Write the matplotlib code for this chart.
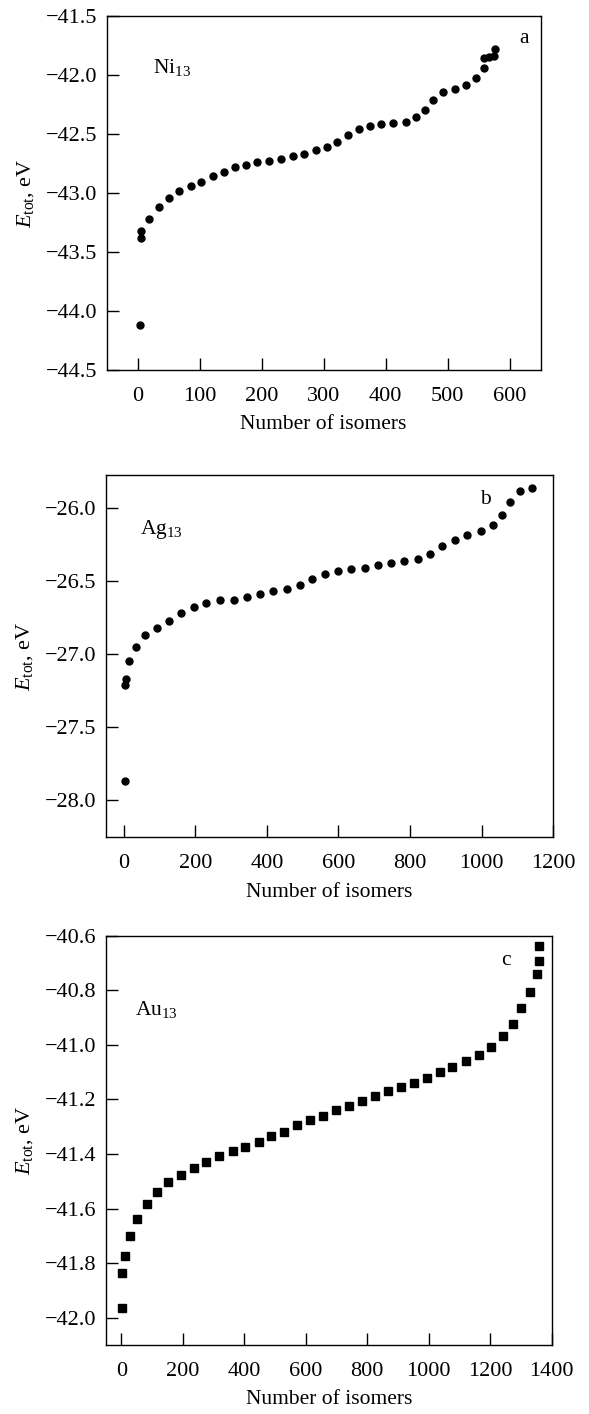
import numpy as np
import matplotlib
matplotlib.use("Agg")
import matplotlib.pyplot as plt
from matplotlib.ticker import MultipleLocator

plt.rcParams['font.family'] = ['Liberation Serif', 'DejaVu Serif']
plt.rcParams['mathtext.fontset'] = 'custom'
plt.rcParams['mathtext.rm'] = 'Liberation Serif'
plt.rcParams['mathtext.it'] = 'Liberation Serif:italic'

# Ni13 isomers (panel a)
ni_x = [4, 5, 6, 19, 34, 50, 67, 86, 103, 121, 139, 157, 175, 193, 212, 231, 250, 268,
        287, 305, 322, 339, 357, 375, 393, 412, 432, 449, 464, 477, 493, 511, 530, 546,
        559, 558, 566, 574, 577]
ni_e = [-44.12, -43.38, -43.32, -43.22, -43.12, -43.04, -42.98, -42.94, -42.91, -42.86,
        -42.82, -42.785, -42.76, -42.74, -42.73, -42.71, -42.69, -42.67, -42.64, -42.61,
        -42.57, -42.51, -42.46, -42.43, -42.42, -42.41, -42.40, -42.36, -42.30, -42.21,
        -42.15, -42.12, -42.09, -42.03, -41.94, -41.86, -41.85, -41.84, -41.78]

# Ag13 isomers (panel b)
ag_x = [3, 5, 7, 15, 34, 59, 93, 127, 161, 196, 231, 270, 307, 344, 382, 417, 455, 492,
        527, 562, 599, 636, 673, 710, 746, 784, 821, 855, 889, 924, 958, 999, 1032, 1057,
        1078, 1107, 1141]
ag_e = [-27.87, -27.21, -27.17, -27.05, -26.95, -26.87, -26.82, -26.775, -26.72, -26.68,
        -26.65, -26.634, -26.63, -26.61, -26.59, -26.57, -26.556, -26.527, -26.49, -26.456,
        -26.433, -26.42, -26.41, -26.39, -26.376, -26.365, -26.347, -26.315, -26.26, -26.217,
        -26.185, -26.16, -26.116, -26.05, -25.957, -25.886, -25.863]

# Au13 isomers (panel c)
au_x = [1, 3, 12, 27, 50, 82, 115, 152, 194, 235, 276, 319, 362, 402, 447, 486, 530, 572,
        612, 657, 698, 741, 783, 824, 866, 910, 952, 995, 1036, 1077, 1121, 1162, 1203,
        1241, 1273, 1301, 1330, 1351, 1358, 1359]
au_e = [-41.966, -41.835, -41.774, -41.70, -41.637, -41.583, -41.54, -41.502, -41.476,
        -41.452, -41.43, -41.408, -41.39, -41.373, -41.356, -41.336, -41.32, -41.293,
        -41.275, -41.26, -41.24, -41.224, -41.207, -41.188, -41.17, -41.153, -41.14,
        -41.12, -41.10, -41.082, -41.061, -41.037, -41.007, -40.967, -40.922, -40.864,
        -40.807, -40.74, -40.694, -40.638]

fig = plt.figure(figsize=(5.89, 14.14), dpi=100)

panels = [
    # rect, x, y, marker, xlim, ylim, xstep, ystep, name, name pos, letter pos
    ([0.181, 0.7383, 0.737, 0.2506], ni_x, ni_e, 'o', (-50, 650), (-44.5, -41.5), 100, 0.5,
     r'Ni$_{13}$', (25, -41.94), 'a', (616, -41.69)),
    ([0.1795, 0.4078, 0.760, 0.2563], ag_x, ag_e, 'o', (-50, 1200), (-28.255, -25.775), 200, 0.5,
     r'Ag$_{13}$', (45, -26.15), 'b', (995, -25.94)),
    ([0.180, 0.0488, 0.7567, 0.2895], au_x, au_e, 's', (-50, 1400), (-42.1, -40.6), 200, 0.2,
     r'Au$_{13}$', (45, -40.87), 'c', (1235, -40.69)),
]

for rect, xs, ys, mk, xl, yl, xst, yst, name, npos, let, lpos in panels:
    ax = fig.add_axes(rect)
    ms = 5 if mk == 'o' else 5.5
    ax.plot(xs, ys, ls='none', marker=mk, ms=ms, color='black', mec='black')
    ax.set_xlim(*xl)
    ax.set_ylim(*yl)
    ax.xaxis.set_major_locator(MultipleLocator(xst))
    ax.yaxis.set_major_locator(MultipleLocator(yst))
    ax.tick_params(direction='in', length=8.5, width=1, labelsize=16, top=False, right=False)
    ax.tick_params(axis='x', pad=12)
    ax.tick_params(axis='y', pad=7)
    for s in ax.spines.values():
        s.set_linewidth(1)
    ax.set_xlabel('Number of isomers', fontsize=15.5, labelpad=7)
    ax.set_ylabel(r'$E_{\rm tot}$, eV', fontsize=16, labelpad=7)
    ax.text(npos[0], npos[1], name, fontsize=15.5, va='center', ha='left')
    ax.text(lpos[0], lpos[1], let, fontsize=15.5, va='center', ha='left')

fig.savefig('out.png', dpi=100)
